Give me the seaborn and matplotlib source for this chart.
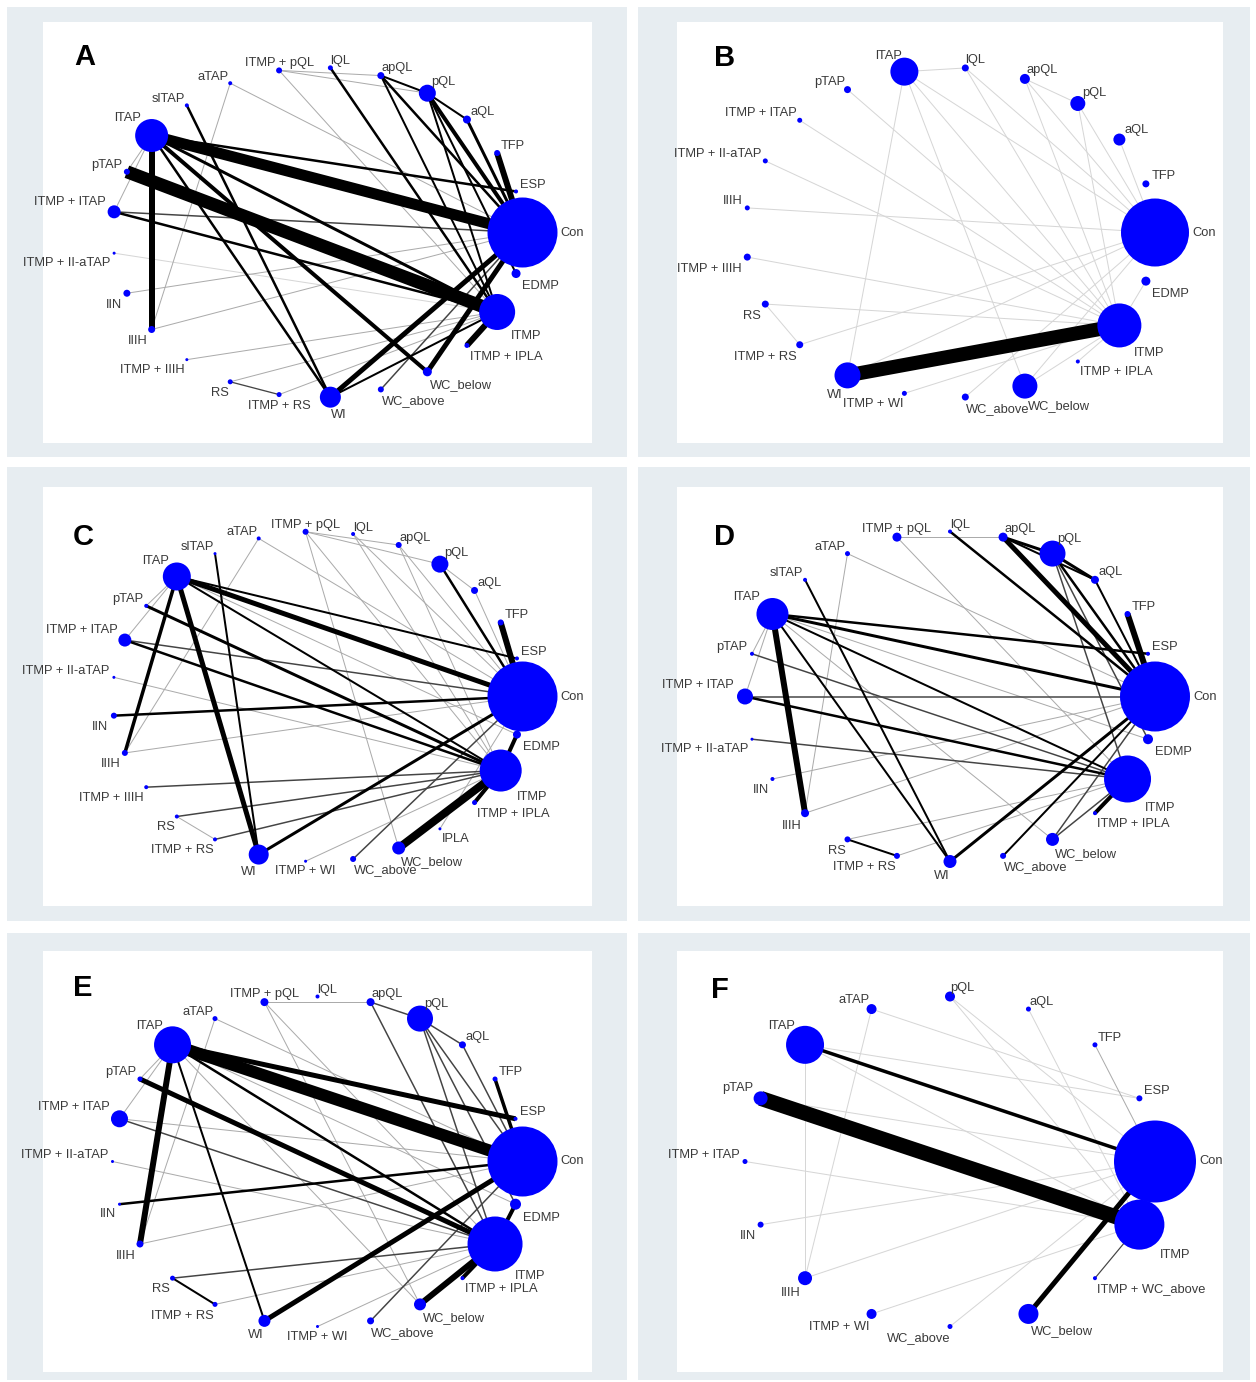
import numpy as np
import pandas as pd
import matplotlib
matplotlib.use("Agg")
import matplotlib.pyplot as plt
from matplotlib.patches import Rectangle
import seaborn as sns

# ------------------------------------------------------------------
# Network data: treatments (in circular order), node weights and
# edge weights (line thickness) for each of the six outcome networks
# ------------------------------------------------------------------
a_nodes = ["Con", "ESP", "TFP", "aQL", "pQL", "apQL", "lQL", "ITMP + pQL", "aTAP",
           "slTAP", "lTAP", "pTAP", "ITMP + lTAP", "ITMP + II-aTAP", "IIN", "IIIH",
           "ITMP + IIIH", "RS", "ITMP + RS", "WI", "WC_above", "WC_below",
           "ITMP + IPLA", "ITMP", "EDMP"]
a_size = [70, 4, 6, 8, 17, 7, 5, 6, 4, 4, 33, 6, 13, 3, 7, 7, 3, 5, 5, 21, 6, 9, 5, 36, 9]
a_edges = [
    ("pTAP", "ITMP", 13), ("lTAP", "Con", 11), ("lTAP", "IIIH", 6), ("TFP", "Con", 6),
    ("ITMP + IPLA", "ITMP", 6), ("WC_below", "Con", 5), ("WI", "Con", 5),
    ("lTAP", "WC_below", 4), ("pQL", "Con", 4), ("lTAP", "ITMP", 3), ("aQL", "Con", 3),
    ("lTAP", "WI", 2.5), ("slTAP", "WI", 2.5), ("lTAP", "ESP", 2.5),
    ("ITMP + lTAP", "ITMP", 2.5), ("lQL", "ITMP", 2.5), ("apQL", "Con", 2.5),
    ("apQL", "pQL", 2), ("apQL", "ITMP", 2), ("pQL", "aQL", 2), ("pQL", "ITMP", 2),
    ("pQL", "EDMP", 2), ("WI", "ITMP", 2),
    ("ITMP + lTAP", "Con", 1.5), ("WC_above", "Con", 1.5), ("RS", "ITMP + RS", 1.3),
    ("pTAP", "lTAP", 1), ("ITMP + lTAP", "lTAP", 1), ("IIIH", "Con", 1), ("IIN", "Con", 1),
    ("ITMP + IIIH", "ITMP", 1), ("RS", "ITMP", 1), ("ITMP + RS", "ITMP", 1),
    ("aTAP", "IIIH", 1), ("aTAP", "Con", 1), ("ITMP + pQL", "apQL", 1),
    ("ITMP + pQL", "ITMP", 1), ("ITMP + pQL", "pQL", 1), ("ITMP + II-aTAP", "ITMP", 0.6),
]

b_nodes = ["Con", "TFP", "aQL", "pQL", "apQL", "lQL", "lTAP", "pTAP", "ITMP + lTAP",
           "ITMP + II-aTAP", "IIIH", "ITMP + IIIH", "RS", "ITMP + RS", "WI", "ITMP + WI",
           "WC_above", "WC_below", "ITMP + IPLA", "ITMP", "EDMP"]
b_size = [68, 7, 12, 15, 10, 7, 28, 7, 5, 5, 5, 7, 7, 7, 26, 5, 7, 25, 4, 44, 9]
b_edges = [
    ("WI", "ITMP", 14),
    ("lTAP", "lQL", 0.6), ("lTAP", "WI", 0.6), ("lTAP", "Con", 0.6), ("lTAP", "ITMP", 0.6),
    ("lTAP", "WC_below", 0.6), ("lQL", "Con", 0.6), ("lQL", "ITMP", 0.6),
    ("apQL", "pQL", 0.6), ("apQL", "Con", 0.6), ("apQL", "ITMP", 0.6), ("pQL", "Con", 0.6),
    ("pQL", "ITMP", 0.6), ("aQL", "Con", 0.6), ("pTAP", "ITMP", 0.6),
    ("ITMP + lTAP", "ITMP", 0.6), ("ITMP + II-aTAP", "ITMP", 0.6), ("IIIH", "Con", 0.6),
    ("ITMP + IIIH", "ITMP", 0.6), ("RS", "ITMP + RS", 0.6), ("RS", "ITMP", 0.6),
    ("ITMP + RS", "Con", 0.6), ("WI", "Con", 0.6), ("ITMP + WI", "ITMP", 0.6),
    ("WC_above", "Con", 0.6), ("WC_below", "Con", 0.6), ("WC_below", "ITMP", 0.6),
    ("ITMP + IPLA", "ITMP", 0.6), ("EDMP", "ITMP", 0.6),
]

c_nodes = ["Con", "ESP", "TFP", "aQL", "pQL", "apQL", "lQL", "ITMP + pQL", "aTAP",
           "slTAP", "lTAP", "pTAP", "ITMP + lTAP", "ITMP + II-aTAP", "IIN", "IIIH",
           "ITMP + IIIH", "RS", "ITMP + RS", "WI", "ITMP + WI", "WC_above", "WC_below",
           "IPLA", "ITMP + IPLA", "ITMP", "EDMP"]
c_size = [70, 4, 6, 7, 17, 6, 4, 6, 4, 3, 28, 4, 13, 3, 6, 6, 4, 4, 4, 20, 3, 6, 13, 3, 5, 42, 8]
c_edges = [
    ("WC_below", "ITMP", 8), ("TFP", "Con", 6), ("lTAP", "Con", 5), ("lTAP", "WI", 5),
    ("ITMP + IPLA", "ITMP", 4), ("EDMP", "ITMP", 4), ("lTAP", "IIIH", 3.5),
    ("pTAP", "ITMP", 3), ("WI", "Con", 3), ("IIN", "Con", 2.5),
    ("ITMP + lTAP", "ITMP", 2.5), ("pQL", "Con", 2.5), ("lTAP", "ITMP", 2),
    ("lTAP", "ESP", 2), ("slTAP", "WI", 2),
    ("ITMP + lTAP", "Con", 1.5), ("ITMP + IIIH", "ITMP", 1.5), ("RS", "ITMP", 1.5),
    ("ITMP + RS", "ITMP", 1.5), ("WC_above", "Con", 1.5),
    ("RS", "ITMP + RS", 1), ("aTAP", "IIIH", 1), ("aTAP", "Con", 1),
    ("ITMP + pQL", "apQL", 1), ("ITMP + pQL", "pQL", 1), ("ITMP + pQL", "ITMP", 1),
    ("ITMP + pQL", "WC_below", 1), ("lQL", "Con", 1), ("lQL", "ITMP", 1),
    ("apQL", "Con", 1), ("apQL", "ITMP", 1), ("IIIH", "Con", 1),
    ("ITMP + II-aTAP", "ITMP", 1), ("pTAP", "lTAP", 1), ("ITMP + lTAP", "lTAP", 1),
    ("ITMP + WI", "ITMP", 1), ("aQL", "Con", 1), ("lTAP", "EDMP", 1), ("IPLA", "Con", 1),
    ("pQL", "aQL", 1),
]

d_nodes = ["Con", "ESP", "TFP", "aQL", "pQL", "apQL", "lQL", "ITMP + pQL", "aTAP",
           "slTAP", "lTAP", "pTAP", "ITMP + lTAP", "ITMP + II-aTAP", "IIN", "IIIH",
           "RS", "ITMP + RS", "WI", "WC_above", "WC_below", "ITMP + IPLA", "ITMP", "EDMP"]
d_size = [70, 4, 6, 8, 26, 9, 4, 9, 5, 4, 32, 4, 16, 3, 4, 8, 6, 6, 13, 6, 13, 4, 47, 10]
d_edges = [
    ("lTAP", "IIIH", 6), ("TFP", "Con", 6), ("apQL", "Con", 5), ("ITMP + IPLA", "ITMP", 4),
    ("apQL", "pQL", 3), ("pQL", "aQL", 3), ("lTAP", "Con", 3), ("WI", "Con", 3),
    ("pQL", "Con", 2.5), ("lQL", "Con", 2.5), ("lTAP", "ESP", 2.5),
    ("ITMP + lTAP", "ITMP", 2.5), ("apQL", "aQL", 2), ("aQL", "Con", 2),
    ("lTAP", "ITMP", 2), ("lTAP", "WI", 2), ("slTAP", "WI", 2), ("WC_above", "Con", 2),
    ("RS", "ITMP + RS", 2),
    ("pQL", "ITMP", 1.5), ("pQL", "EDMP", 1.5), ("ITMP + lTAP", "Con", 1.5),
    ("WC_below", "ITMP", 1.5), ("WC_below", "Con", 1.5), ("pTAP", "ITMP", 1.5),
    ("ITMP + II-aTAP", "ITMP", 1.5),
    ("RS", "ITMP", 1), ("ITMP + RS", "ITMP", 1), ("aTAP", "IIIH", 1), ("aTAP", "Con", 1),
    ("ITMP + pQL", "apQL", 1), ("ITMP + pQL", "ITMP", 1), ("IIN", "Con", 1),
    ("IIIH", "Con", 1), ("pTAP", "lTAP", 1), ("ITMP + lTAP", "lTAP", 1),
    ("lTAP", "EDMP", 1), ("lTAP", "WC_below", 1),
]

e_nodes = ["Con", "ESP", "TFP", "aQL", "pQL", "apQL", "lQL", "ITMP + pQL", "aTAP",
           "lTAP", "pTAP", "ITMP + lTAP", "ITMP + II-aTAP", "IIN", "IIIH", "RS",
           "ITMP + RS", "WI", "ITMP + WI", "WC_above", "WC_below", "ITMP + IPLA", "ITMP", "EDMP"]
e_size = [70, 4, 5, 7, 26, 8, 4, 8, 5, 37, 5, 17, 3, 3, 7, 5, 5, 12, 3, 7, 12, 4, 55, 11]
e_edges = [
    ("lTAP", "Con", 12), ("lTAP", "IIIH", 6), ("WC_below", "ITMP", 6),
    ("lTAP", "ESP", 5), ("pTAP", "ITMP", 5), ("WI", "Con", 5),
    ("ITMP + IPLA", "ITMP", 4), ("EDMP", "ITMP", 4), ("TFP", "Con", 3.5),
    ("lTAP", "ITMP", 2.5), ("IIN", "Con", 2.5), ("lTAP", "WI", 2), ("RS", "ITMP + RS", 2),
    ("ITMP + lTAP", "ITMP", 1.5), ("apQL", "ITMP", 1.5), ("apQL", "pQL", 1.5),
    ("pQL", "Con", 1.5), ("pQL", "ITMP", 1.5), ("pQL", "EDMP", 1.5), ("pQL", "aQL", 1.5),
    ("aQL", "Con", 1.5), ("RS", "ITMP", 1.5), ("WC_above", "Con", 1.5),
    ("ITMP + RS", "ITMP", 1), ("aTAP", "IIIH", 1), ("aTAP", "Con", 1),
    ("ITMP + pQL", "apQL", 1), ("ITMP + pQL", "ITMP", 1), ("ITMP + pQL", "WC_below", 1),
    ("ITMP + II-aTAP", "ITMP", 1), ("IIIH", "Con", 1), ("pTAP", "lTAP", 1),
    ("ITMP + lTAP", "lTAP", 1), ("ITMP + lTAP", "Con", 1), ("ITMP + WI", "ITMP", 1),
    ("lTAP", "EDMP", 1), ("lTAP", "WC_below", 1),
]

f_nodes = ["Con", "ESP", "TFP", "aQL", "pQL", "aTAP", "lTAP", "pTAP", "ITMP + lTAP",
           "IIN", "IIIH", "ITMP + WI", "WC_above", "WC_below", "ITMP + WC_above", "ITMP"]
f_size = [82, 6, 5, 5, 10, 10, 38, 14, 5, 6, 14, 10, 5, 20, 4, 50]
f_edges = [
    ("pTAP", "ITMP", 15), ("WC_below", "Con", 5), ("lTAP", "Con", 3.5),
    ("ITMP + WC_above", "ITMP", 1.2), ("TFP", "Con", 1),
    ("aTAP", "IIIH", 0.6), ("aTAP", "ESP", 0.6), ("pQL", "Con", 0.6), ("pQL", "ITMP", 0.6),
    ("aQL", "ITMP", 0.6), ("lTAP", "IIIH", 0.6), ("lTAP", "ESP", 0.6), ("lTAP", "ITMP", 0.6),
    ("pTAP", "Con", 0.6), ("ITMP + lTAP", "ITMP", 0.6), ("IIN", "Con", 0.6),
    ("IIIH", "Con", 0.6), ("ITMP + WI", "ITMP", 0.6), ("WC_above", "Con", 0.6),
]

panels = [
    ("A", a_nodes, a_size, a_edges),
    ("B", b_nodes, b_size, b_edges),
    ("C", c_nodes, c_size, c_edges),
    ("D", d_nodes, d_size, d_edges),
    ("E", e_nodes, e_size, e_edges),
    ("F", f_nodes, f_size, f_edges),
]

# ------------------------------------------------------------------
# Page geometry (pixels, origin top-left)
# ------------------------------------------------------------------
W, H = 1256, 1382
outer_boxes = [(7, 7, 627, 457), (638, 7, 1250, 457),
               (7, 467, 627, 921), (638, 467, 1250, 921),
               (7, 933, 627, 1380), (638, 933, 1250, 1380)]
inner_boxes = [(43, 22, 592, 443), (677, 22, 1223, 443),
               (43, 487, 592, 906), (677, 487, 1223, 906),
               (43, 951, 592, 1372), (677, 951, 1223, 1372)]
letter_pos = [(85, 57), (725, 58), (83, 537), (725, 537), (83, 988), (720, 990)]
RX, RY = 205.0, 165.0  # radii of the circular layout in pixels
PT = 0.72              # points per pixel at dpi=100

sns.set_style("white")
plt.rcParams["font.family"] = ["Liberation Sans", "DejaVu Sans"]

fig = plt.figure(figsize=(W / 100, H / 100), dpi=100)
fig.patch.set_facecolor("white")


def fig_rect(box, color):
    x0, y0, x1, y1 = box
    fig.patches.append(Rectangle((x0 / W, 1 - y1 / H), (x1 - x0) / W, (y1 - y0) / H,
                                 transform=fig.transFigure, facecolor=color,
                                 edgecolor="none", zorder=-10))


def edge_style(w):
    if w < 1:
        return "#d6d6d6", 1.0
    if w == 1:
        return "#ababab", 1.0
    if w < 2:
        return "#444444", w
    return "black", w


def label_layout(theta, r, name, first):
    """Anchor offset (px) and alignment of a node label around the circle."""
    c, s = np.cos(theta), np.sin(theta)
    if first:
        return "left", "center", r + 3, 0.0
    top = s > 0
    if top:
        va, dy = "baseline", 0.75 * r + 2
    else:
        va, dy = "top", -(0.85 * r + 3)
    combo = name.startswith("ITMP +")
    if combo and c < 0 and ((top and c > -0.27) or (not top and c > -0.2)):
        return "center", va, 0.0, dy
    ha = "left" if c > 0 else "right"
    dx = c * (r + 3) * (1 - 0.5 * abs(s))
    return ha, va, dx, dy


for k, (letter, nodes, sizes, edges) in enumerate(panels):
    fig_rect(outer_boxes[k], "#e7edf1")
    fig_rect(inner_boxes[k], "white")
    x0, y0, x1, y1 = inner_boxes[k]
    ax = fig.add_axes([x0 / W, 1 - y1 / H, (x1 - x0) / W, (y1 - y0) / H])
    ax.set_facecolor("none")
    ax.set_zorder(2)

    n = len(nodes)
    theta = 2 * np.pi * np.arange(n) / n
    df = pd.DataFrame({"name": nodes, "x": np.cos(theta), "y": np.sin(theta),
                       "d": np.array(sizes, dtype=float)})
    pos = {nm: (xx, yy) for nm, xx, yy in zip(df["name"], df["x"], df["y"])}

    # edges, thin grey first, heavy black on top
    for a, b, w in sorted(edges, key=lambda e: e[2]):
        col, lw = edge_style(w)
        ax.plot([pos[a][0], pos[b][0]], [pos[a][1], pos[b][1]], color=col,
                lw=lw * PT, solid_capstyle="butt", zorder=1 + w / 100)

    # nodes
    sns.scatterplot(data=df, x="x", y="y", s=(df["d"] * PT) ** 2, color="#0000ff",
                    linewidth=0, edgecolor="none", legend=False, ax=ax, zorder=3)

    # labels
    for i, row in df.iterrows():
        ha, va, dx, dy = label_layout(theta[i], row["d"] / 2, row["name"], i == 0)
        ax.annotate(row["name"], xy=(row["x"], row["y"]), xytext=(dx * PT, dy * PT),
                    textcoords="offset points", ha=ha, va=va, fontsize=9.3,
                    color="#3a3a3a", zorder=4)

    ax.set_xlim(-(x1 - x0) / 2 / RX, (x1 - x0) / 2 / RX)
    ax.set_ylim(-(y1 - y0) / 2 / RY, (y1 - y0) / 2 / RY)
    ax.set_xlabel("")
    ax.set_ylabel("")
    ax.axis("off")

    lx, ly = letter_pos[k]
    fig.text(lx / W, 1 - ly / H, letter, fontsize=21, fontweight="bold",
             ha="center", va="center", color="black")

fig.savefig("out.png", dpi=100, facecolor="white")
